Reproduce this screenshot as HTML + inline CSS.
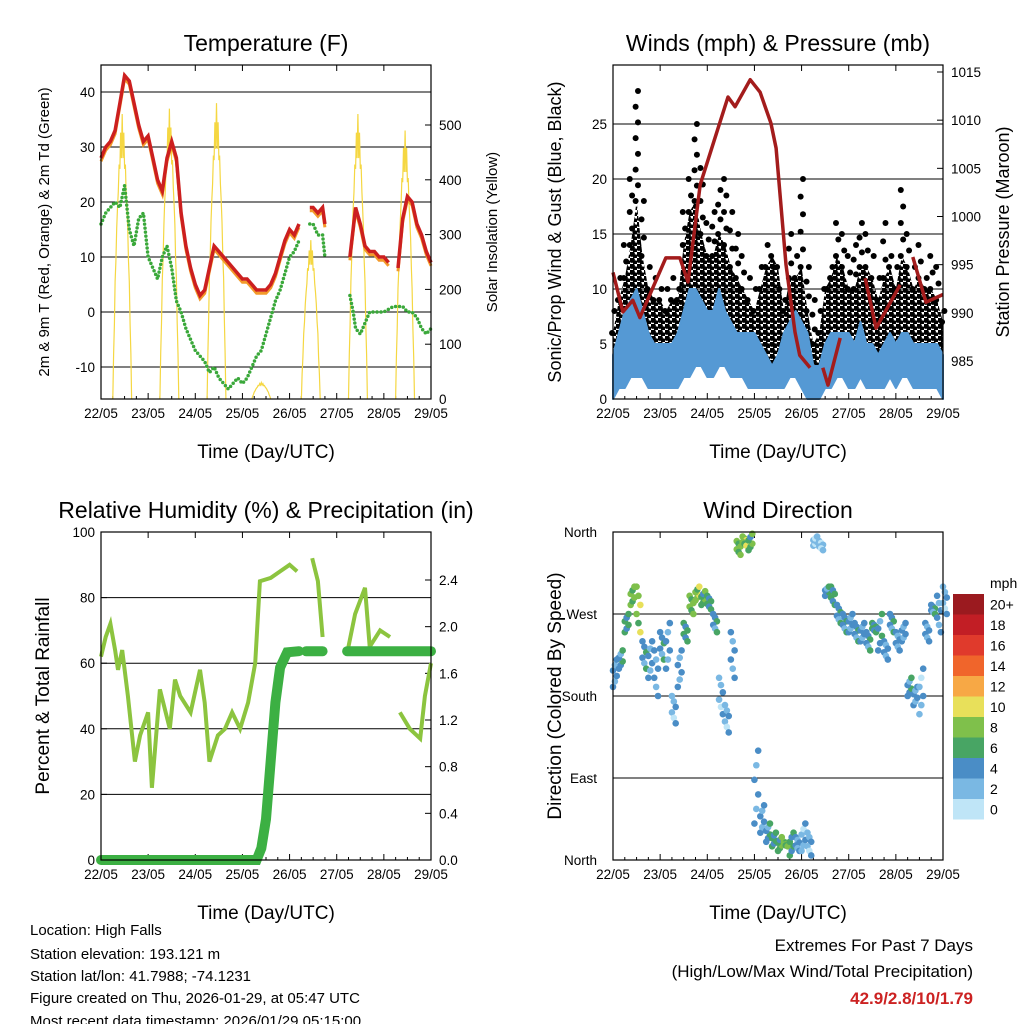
<!DOCTYPE html>
<html><head><meta charset="utf-8"><style>
body{margin:0;background:#fff;}
svg{display:block;font-family:"Liberation Sans",sans-serif;}
</style></head><body>
<svg id="c" width="1024" height="1024" viewBox="0 0 1024 1024">
<defs>
<pattern id="dots" width="7" height="6" patternUnits="userSpaceOnUse">
<circle cx="2" cy="2" r="2.9" fill="#000"/><circle cx="5.5" cy="5" r="2.6" fill="#000"/>
</pattern>
</defs>
<rect width="1024" height="1024" fill="#fff"/>
<g id="g1"></g>
<g id="g2"></g>
<g id="g3"></g>
<g id="g4"></g>
<g font-size="15" fill="#000">
<text x="30" y="935">Location: High Falls</text>
<text x="30" y="959">Station elevation: 193.121 m</text>
<text x="30" y="981">Station lat/lon: 41.7988; -74.1231</text>
<text x="30" y="1003">Figure created on Thu, 2026-01-29, at 05:47 UTC</text>
<text x="30" y="1026">Most recent data timestamp: 2026/01/29 05:15:00</text>
</g>
<g text-anchor="end">
<text x="973" y="951" font-size="17">Extremes For Past 7 Days</text>
<text x="973" y="977" font-size="17">(High/Low/Max Wind/Total Precipitation)</text>
<text x="973" y="1004" font-size="17" font-weight="bold" fill="#cc2222">42.9/2.8/10/1.79</text>
</g>
</svg>
<script>
const NS='http://www.w3.org/2000/svg';
const dayLabels=['22/05','23/05','24/05','25/05','26/05','27/05','28/05','29/05'];
// Temperature (F) at times (days), null = gap
const tempT=[0,0.1,0.2,0.3,0.4,0.5,0.6,0.7,0.8,0.9,1.0,1.1,1.2,1.3,1.4,1.5,1.6,1.7,1.8,1.9,2.0,2.1,2.2,2.3,2.4,2.5,2.6,2.7,2.8,2.9,3.0,3.1,3.2,3.3,3.4,3.5,3.6,3.7,3.8,3.9,4.0,4.1,4.2,4.3,4.43,4.5,4.6,4.7,4.75,4.8,5.28,5.4,5.5,5.6,5.7,5.8,5.9,6.0,6.1,6.2,6.3,6.4,6.5,6.6,6.7,6.8,6.9,7.0];
const tempV=[28,30,31,33,38,43,42,38,34,31,32,28,24,22,28,31,28,18,12,8,5,3,4,8,12,11,10,9,8,7,6,6,5,4,4,4,5,7,10,13,15,14,16,null,19,19,18,19,16,null,10,19,16,12,11,11,10,10,9,null,8,17,21,20,16,14,11,9];
const dewT=[0,0.1,0.2,0.3,0.4,0.5,0.6,0.7,0.8,0.9,1.0,1.1,1.2,1.3,1.4,1.5,1.6,1.7,1.8,1.9,2.0,2.1,2.2,2.3,2.4,2.5,2.6,2.7,2.8,2.9,3.0,3.1,3.2,3.3,3.4,3.5,3.6,3.7,3.8,3.9,4.0,4.1,4.2,4.3,4.43,4.5,4.6,4.7,4.75,4.8,5.28,5.35,5.4,5.5,5.6,5.7,5.8,5.9,6.0,6.2,6.4,6.5,6.6,6.7,6.8,6.9,7.0];
const dewV=[16,18,19,20,19,23,15,12,17,18,10,8,6,10,12,8,2,0,-3,-5,-7,-8,-9,-11,-10,-12,-13,-14,-13,-12,-13,-12,-10,-8,-7,-4,-1,2,4,7,10,11,13,null,16,16,14,14,10,null,3,0,-3,-4,-2,0,0,0,0,1,1,0,0,-1,-3,-4,-3];
const solarT=[0.45,1.45,2.45,3.4,4.45,5.45,6.45];
const solarPeak=[520,530,540,30,290,520,490];
// Winds (mph) per 0.125-day bin
const windStep=0.125;
const gustMax=[8,11,14,20,28,18,12,11,10,10,11,10,17,20,25,21,16,17,19,20,17,15,13,11,10,12,14,12,10,9,15,13,20,12,9,8,10,12,16,15,13,14,16,15,13,11,16,13,12,19,15,12,14,11,13,12,8];
const gustHi=[6,9,11,14,18,13,10,9,9,8,9,9,14,17,18,15,13,13,15,14,12,11,10,9,8,10,12,13,12,8,11,11,12,8,5,6,10,11,13,12,10,10,12,12,11,9,11,12,10,13,12,10,11,10,10,9,7];
const windHi=[4,6,8,9,10,8,6,5,5,5,5,6,8,10,10,9,8,8,10,8,7,6,6,6,6,5,4,3,4,6,7,8,7,6,3,3,5,6,6,6,6,5,7,5,5,4,5,6,5,6,6,5,5,5,5,5,4];
const windLo=[0,1,1,2,2,2,1,1,1,1,1,1,2,2,3,3,2,2,3,3,2,2,2,1,1,1,1,1,1,1,2,2,1,0,0,0,1,1,2,2,1,1,2,1,1,1,1,2,1,2,2,1,1,1,1,1,0];
const presT=[0,0.21,0.42,0.57,1.12,1.42,1.59,1.85,2.27,2.44,2.59,2.91,3.12,3.35,3.46,3.67,3.86,3.96,4.18,4.3,4.45,4.56,4.82,5.0,5.35,5.58,6.09,6.2,6.36,6.64,7.0];
const presV=[994.2,990.1,991.3,989.5,995.7,995.7,993.2,1003.3,1009.8,1012.4,1011.4,1014.2,1012.9,1009.7,1007.1,995,988,985.6,984.3,null,984.3,982.5,987.4,null,993.6,988.4,992.9,null,995.8,991.1,991.9];
// RH & precipitation
const rhT=[0,0.1,0.2,0.3,0.36,0.45,0.57,0.72,0.83,1.0,1.08,1.25,1.46,1.57,1.68,1.9,2.1,2.2,2.3,2.48,2.63,2.78,2.95,3.12,3.27,3.37,3.6,3.8,4.0,4.16,4.17,4.48,4.6,4.7,4.71,5.22,5.39,5.6,5.7,5.92,6.13,6.14,6.34,6.55,6.77,6.87,7.0];
const rhV=[62,68,72,64,58,64,50,30,38,45,22,52,40,55,50,45,58,48,30,38,40,45,40,48,60,85,86,88,90,88,null,92,85,68,null,63,75,83,65,70,68,null,45,40,37,50,60];
const prT=[0,3.3,3.4,3.5,3.6,3.7,3.8,3.95,4.2,4.21,4.35,4.7,4.71,5.22,7.0];
const prV=[0,0,0.1,0.35,0.85,1.35,1.65,1.78,1.79,null,1.79,1.79,null,1.79,1.79];
// Wind direction (deg) and speed per 0.125 day bin
const dirA=[190,210,250,280,300,240,200,230,250,210,180,190,260,290,285,280,290,270,200,170,250,350,355,340,40,30,20,15,10,20,5,25,10,30,345,350,290,300,280,270,250,260,240,250,260,230,240,270,250,240,180,170,160,260,280,290,300];
const dirB=[220,230,270,300,250,210,240,180,220,260,150,230,240,270,300,295,275,250,160,140,200,335,345,358,120,60,40,30,25,15,30,10,40,5,355,340,300,280,260,250,270,240,260,230,250,270,220,250,230,260,200,190,210,240,270,250,270];
const dirSpd=[3,4,5,7,8,4,3,3,4,3,2,3,5,7,8,6,5,4,2,2,3,7,8,6,3,3,4,5,6,7,5,3,2,2,1,1,4,5,4,4,3,4,3,4,5,4,3,4,3,3,4,3,2,3,4,3,2];
const spdColors=['#bfe5f7','#7ab8e3','#4a8dc6','#48a564','#7fc04b','#e8e05a','#f7a845','#f0652b','#e03a2c','#c21e25','#9b1a1f'];
const spdLabels=['0','2','4','6','8','10','12','14','16','18','20+'];

function el(p,tag,attrs,txt){const e=document.createElementNS(NS,tag);for(const k in attrs)e.setAttribute(k,attrs[k]);if(txt!==undefined)e.textContent=txt;p.appendChild(e);return e;}
function lin(d0,d1,r0,r1){return v=>r0+(v-d0)/(d1-d0)*(r1-r0);}
function path(xs,ys,sx,sy){let d='',pen=false;for(let i=0;i<xs.length;i++){if(ys[i]===null){pen=false;continue;}d+=(pen?'L':'M')+sx(xs[i]).toFixed(1)+','+sy(ys[i]).toFixed(1);pen=true;}return d;}
function area(xs,lo,hi,sx,sy){let d='';for(let i=0;i<xs.length;i++)d+=(i?'L':'M')+sx(xs[i]).toFixed(1)+','+sy(hi[i]).toFixed(1);for(let i=xs.length-1;i>=0;i--)d+='L'+sx(xs[i]).toFixed(1)+','+sy(lo[i]).toFixed(1);return d+'Z';}

function frame(g,x0,y0,x1,y1,title,xlab,ylab,ylab2,ly){
  const t=el(g,'text',{x:(x0+x1)/2,y:y0-14,'font-size':23,'text-anchor':'middle'},title);
  
  
  const xl=el(g,'text',{x:(x0+x1)/2,y:y1+59,'font-size':19,'text-anchor':'middle'},xlab);
  
  
  const yl=el(g,'text',{x:0,y:0,'font-size':ly,'text-anchor':'middle',transform:`translate(${x0-52},${(y0+y1)/2}) rotate(-90)`},ylab);
  
  
  if(ylab2){const y2=el(g,'text',{x:0,y:0,'font-size':ly,'text-anchor':'middle',transform:`translate(${x1+66},${(y0+y1)/2}) rotate(-90)`},ylab2);
    
    }
  const sx=lin(0,7,x0,x1);
  for(let i=0;i<8;i++){const x=sx(i);
    el(g,'line',{x1:x,y1:y1,x2:x,y2:y1-6,stroke:'#000'});el(g,'line',{x1:x,y1:y0,x2:x,y2:y0+6,stroke:'#000'});
    const tl=el(g,'text',{x:x,y:y1+19,'font-size':13.5,'text-anchor':'middle'},dayLabels[i]);
    
    
    if(i<7)for(let k=1;k<4;k++){const xm=sx(i+k/4);el(g,'line',{x1:xm,y1:y1,x2:xm,y2:y1-3,stroke:'#000'});}
  }
  return sx;
}
function yticks(g,x0,x1,vals,sy,side,grid,fmt){
  for(const v of vals){const y=sy(v);
    if(grid)el(g,'line',{x1:x0,y1:y,x2:x1,y2:y,stroke:'#000','stroke-width':1});
    const xe=side==='l'?x0:x1,dir=side==='l'?1:-1;
    el(g,'line',{x1:xe,y1:y,x2:xe+6*dir,y2:y,stroke:'#000'});
    const t=el(g,'text',{x:side==='l'?x0-6:x1+8,y:y+5,'font-size':13.5,'text-anchor':side==='l'?'end':'start'},fmt?fmt(v):String(v));
    
    
  }
}
function box(g,x0,y0,x1,y1){const b=el(g,'rect',{x:x0,y:y0,width:x1-x0,height:y1-y0,fill:'none',stroke:'#000','stroke-width':1.2});}

// Panel 1
(function(){const g=document.getElementById('g1');const x0=101,y0=65,x1=431,y1=399;
 const sx=frame(g,x0,y0,x1,y1,'Temperature (F)','Time (Day/UTC)','2m & 9m T (Red, Orange) & 2m Td (Green)','Solar Insolation (Yellow)',15);
 const sy=lin(0,10,312,257), sy2=lin(0,500,399,125);
 yticks(g,x0,x1,[-10,0,10,20,30,40],sy,'l',true);
 yticks(g,x0,x1,[0,100,200,300,400,500],sy2,'r',false);
 for(let i=0;i<solarT.length;i++){let d='';for(let k=-12;k<=12;k++){const f=k/12;const t=solarT[i]+f*0.2;const v=solarPeak[i]*Math.max(0,1-f*f)*(1-0.15*Math.abs(Math.sin(k*1.7)));d+=(k===-12?'M':'L')+sx(t).toFixed(1)+','+sy2(v).toFixed(1);}
  const p=el(g,'path',{d:d,fill:'none',stroke:'#f5d742','stroke-width':1.2});
  
  }
 const o=el(g,'path',{d:path(tempT,tempV.map(v=>v===null?null:v-0.6),sx,sy),fill:'none',stroke:'#f39a2a','stroke-width':3});
 
 const r=el(g,'path',{d:path(tempT,tempV,sx,sy),fill:'none',stroke:'#cc1f1f','stroke-width':3.5});
 
 const gd=el(g,'path',{d:path(dewT,dewV,sx,sy),fill:'none',stroke:'#3aa83a','stroke-width':3.5,'stroke-dasharray':'0 4','stroke-linecap':'round'});
 
 box(g,x0,y0,x1,y1);})();

// Panel 2
(function(){const g=document.getElementById('g2');const x0=613,y0=65,x1=943,y1=399;
 const sx=frame(g,x0,y0,x1,y1,'Winds (mph) & Pressure (mb)','Time (Day/UTC)','Sonic/Prop Wind & Gust (Blue, Black)','Station Pressure (Maroon)',18);
 const sy=lin(0,25,399,124), sy2=lin(985,1015,361,72);
 yticks(g,x0,x1,[0,5,10,15,20,25],sy,'l',true);
 yticks(g,x0,x1,[985,990,995,1000,1005,1010,1015],sy2,'r',false);
 const wt=windHi.map((_,i)=>i*windStep);
 const ga=el(g,'path',{d:area(wt,windLo.map(v=>v+1),gustHi,sx,sy),fill:'url(#dots)',stroke:'none'});
 
 for(let i=0;i<gustMax.length;i++){
  const n=Math.max(1,Math.round((gustMax[i]-gustHi[i])/1.5));
  for(let k=0;k<=n;k++){const v=gustHi[i]+(gustMax[i]-gustHi[i])*k/n;
   const c=el(g,'circle',{cx:sx(wt[i]+(k%2?0.03:-0.02)),cy:sy(v),r:3,fill:'#000'});
   }}
 const bl=el(g,'path',{d:area(wt,windLo,windHi,sx,sy),fill:'#5599d4',stroke:'#5599d4','stroke-width':2,'stroke-linejoin':'round'});
 
 const pr=el(g,'path',{d:path(presT,presV,sx,sy2),fill:'none',stroke:'#a31c1c','stroke-width':3.5,'stroke-linejoin':'round'});
 
 box(g,x0,y0,x1,y1);})();

// Panel 3
(function(){const g=document.getElementById('g3');const x0=101,y0=532,x1=431,y1=860;
 const sx=frame(g,x0,y0,x1,y1,'Relative Humidity (%) & Precipitation (in)','Time (Day/UTC)','Percent & Total Rainfall',null,19);
 const sy=lin(0,100,860,532), sy2=lin(0,2.4,860,580);
 yticks(g,x0,x1,[0,20,40,60,80,100],sy,'l',true);
 yticks(g,x0,x1,[0,0.4,0.8,1.2,1.6,2.0,2.4],sy2,'r',false,v=>v.toFixed(1));
 const rh=el(g,'path',{d:path(rhT,rhV,sx,sy),fill:'none',stroke:'#8cc43f','stroke-width':4});
 
 const pp=el(g,'path',{d:path(prT,prV,sx,sy2),fill:'none',stroke:'#3cb043','stroke-width':10,'stroke-linecap':'round'});
 
 box(g,x0,y0,x1,y1);})();

// Panel 4
(function(){const g=document.getElementById('g4');const x0=613,y0=532,x1=943,y1=860;
 const sx=frame(g,x0,y0,x1,y1,'Wind Direction','Time (Day/UTC)','Direction (Colored By Speed)',null,19);
 const sy=lin(0,360,860,532);
 const names=['North','East','South','West','North'];
 [0,90,180,270,360].forEach((v,i)=>{const y=sy(v);el(g,'line',{x1:x0,y1:y,x2:x1,y2:y,stroke:'#000'});
  const t=el(g,'text',{x:x0-16,y:y+5,'font-size':13.5,'text-anchor':'end'},names[i]);
  });
 const col=s=>spdColors[Math.min(10,Math.max(0,Math.round(s/2)))];
 const sp=[0,-1,1,0,-2,1];
 for(let i=0;i<dirA.length;i++){const t=i*0.125;
  for(let k=0;k<6;k++){const f=k/5;const d=dirA[i]+(dirB[i]-dirA[i])*f;
   const c=el(g,'circle',{cx:sx(t+(k%3)*0.04),cy:sy(d),r:3.3,fill:col(dirSpd[i]+sp[k])});
   }}
 box(g,x0,y0,x1,y1);
 const cb=el(g,'g',{});
 el(cb,'text',{x:990,y:588,'font-size':14},'mph');
 const h=20.5;
 for(let i=0;i<11;i++){const y=594+(10-i)*h;
  const r=el(cb,'rect',{x:953,y:y,width:31,height:h,fill:spdColors[i]});
  
  el(cb,'text',{x:990,y:y+h/2+5,'font-size':14},spdLabels[i]);}
})();
</script>
</body></html>
